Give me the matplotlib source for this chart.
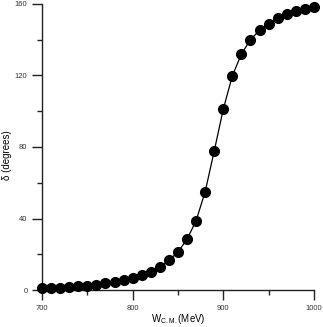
import matplotlib.pyplot as plt
import numpy as np

plt.rcParams['font.family'] = ['Liberation Sans', 'DejaVu Sans']
plt.rcParams['mathtext.fontset'] = 'custom'
plt.rcParams['mathtext.rm'] = 'Liberation Sans'

energy = np.arange(700, 1001, 10)
delta = [0.9, 1.0, 1.3, 1.7, 2.0, 2.4, 3.0, 3.7, 4.5, 5.6,
         6.7, 8.2, 10.3, 13.0, 16.6, 21.3, 28.4, 38.8, 55.0, 77.8,
         101.2, 119.8, 132.0, 140.0, 145.3, 149.0, 152.0, 154.4, 156.0, 157.4,
         158.3]

fig = plt.figure(figsize=(3.23, 3.27), dpi=100)
ax = fig.add_axes([0.130, 0.113, 0.842, 0.875])

ax.plot(energy, delta, color='black', lw=0.9, zorder=2, clip_on=False)
ax.plot(energy, delta, 'o', color='black', ms=7, zorder=3, clip_on=False)

ax.set_xlim(700, 1000)
ax.set_ylim(0, 160)
ax.set_xticks([700, 800, 900, 1000])
ax.set_xticks([750, 850, 950], minor=True)
ax.set_yticks([0, 40, 80, 120, 160])
ax.set_yticks([20, 60, 100, 140], minor=True)

for side in ['top', 'right']:
    ax.spines[side].set_visible(False)
for side in ['left', 'bottom']:
    ax.spines[side].set_linewidth(1.0)
    ax.spines[side].set_color('#222222')

ax.tick_params(which='major', length=7, width=1.0, labelsize=5.5, pad=3.5,
               color='#222222', labelcolor='#333333')
ax.tick_params(which='minor', length=3.5, width=1.0, color='#222222')

ax.set_xlabel(r'W$_{\mathrm{C.M.}}$(MeV)', fontsize=7)
ax.set_ylabel('δ (degrees)', fontsize=7)
ax.xaxis.set_label_coords(0.5, -0.077)
ax.yaxis.set_label_coords(-0.11, 0.47)

fig.savefig('out.png', dpi=100)
